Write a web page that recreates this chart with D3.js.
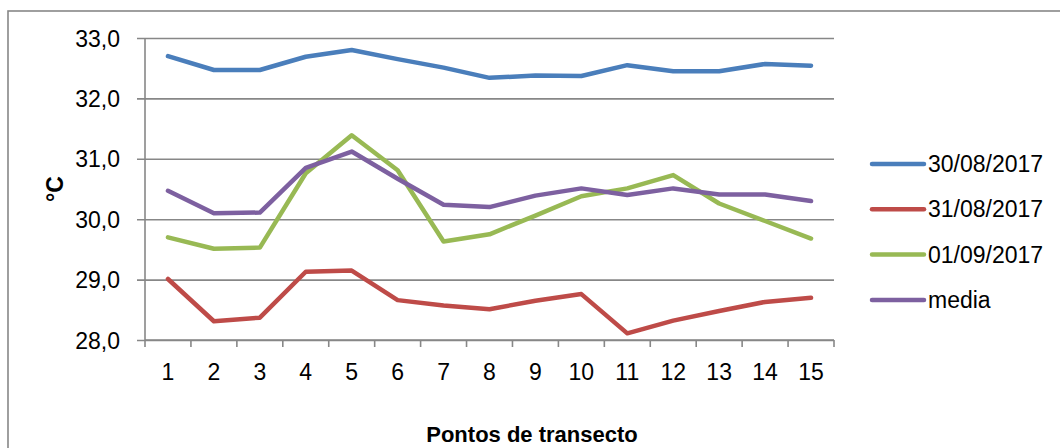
<!DOCTYPE html>
<html>
<head>
<meta charset="utf-8">
<script src="https://cdn.jsdelivr.net/npm/d3@7/dist/d3.min.js"></script>
<style>
  html, body { margin: 0; padding: 0; background: #fff; }
  svg { display: block; }
  text { font-family: "Liberation Sans", Arial, sans-serif; fill: #000; }
</style>
</head>
<body>
<svg id="chart" width="1060" height="448"></svg>
<script>
// Temperature (°C) along the transect points
const pontos = ["1","2","3","4","5","6","7","8","9","10","11","12","13","14","15"];
const d30_08 = [32.70, 32.47, 32.47, 32.69, 32.80, 32.65, 32.51, 32.34, 32.38, 32.37, 32.55, 32.45, 32.45, 32.57, 32.54];
const d31_08 = [29.01, 28.31, 28.37, 29.13, 29.15, 28.66, 28.57, 28.51, 28.65, 28.76, 28.11, 28.32, 28.48, 28.63, 28.70];
const d01_09 = [29.70, 29.51, 29.53, 30.76, 31.39, 30.81, 29.63, 29.75, 30.06, 30.38, 30.51, 30.73, 30.26, 29.97, 29.68];
const media  = [30.47, 30.10, 30.11, 30.85, 31.12, 30.67, 30.24, 30.20, 30.39, 30.51, 30.40, 30.51, 30.41, 30.41, 30.30];
const yTicks = [28, 29, 30, 31, 32, 33];
const seriesNames = ["30/08/2017", "31/08/2017", "01/09/2017", "media"];
const seriesColors = ["#4a7ebb", "#be4b48", "#98b954", "#7d60a0"];
const seriesValues = [d30_08, d31_08, d01_09, media];

const svg = d3.select("#chart");
const margin = { left: 145, top: 38, right: 834, bottom: 340 };

// outer chart frame
svg.append("rect")
  .attr("x", 8).attr("y", 11)
  .attr("width", 1200).attr("height", 600)
  .attr("fill", "none").attr("stroke", "#878787").attr("stroke-width", 1.6);

const x = d3.scaleBand().domain(pontos).range([margin.left, margin.right]).padding(0);
const y = d3.scaleLinear().domain([28, 33]).range([margin.bottom, margin.top]);

const fmt = v => d3.format(".1f")(v).replace(".", ",");

// horizontal gridlines + left axis
const yAxis = d3.axisLeft(y).tickValues(yTicks).tickFormat(fmt)
  .tickSize(-(margin.right - margin.left)).tickSizeOuter(0).tickPadding(0);
const gy = svg.append("g").attr("transform", `translate(${margin.left},0)`).call(yAxis);
gy.select(".domain").remove();
gy.selectAll(".tick line")
  .attr("x1", -8)
  .attr("stroke", "#878787").attr("stroke-width", 1.6);
gy.selectAll(".tick text")
  .attr("x", -25).attr("dy", "0.35em")
  .style("font-size", "23px").style("font-family", "Liberation Sans, Arial, sans-serif")
  .attr("fill", "#000");

// vertical axis line
svg.append("line")
  .attr("x1", margin.left).attr("x2", margin.left)
  .attr("y1", margin.top).attr("y2", margin.bottom)
  .attr("stroke", "#878787").attr("stroke-width", 1.6);

// category axis with ticks at band boundaries
const gx = svg.append("g").attr("transform", `translate(0,${margin.bottom})`);
gx.append("line")
  .attr("x1", margin.left).attr("x2", margin.right)
  .attr("stroke", "#878787").attr("stroke-width", 1.6);
const bounds = pontos.map(p => x(p)).concat([x(pontos[pontos.length - 1]) + x.bandwidth()]);
gx.selectAll("line.tk").data(bounds).join("line").attr("class", "tk")
  .attr("x1", d => d).attr("x2", d => d).attr("y1", 0).attr("y2", 7)
  .attr("stroke", "#878787").attr("stroke-width", 1.6);
gx.selectAll("text").data(pontos).join("text")
  .attr("x", d => x(d) + x.bandwidth() / 2)
  .attr("y", 40)
  .attr("text-anchor", "middle")
  .style("font-size", "23px")
  .text(d => d);

// series lines
const line = d3.line()
  .x((d, i) => x(pontos[i]) + x.bandwidth() / 2)
  .y(d => y(d));
svg.append("g").selectAll("path").data(seriesValues).join("path")
  .attr("d", d => line(d))
  .attr("fill", "none")
  .attr("stroke", (d, i) => seriesColors[i])
  .attr("stroke-width", 4.5)
  .attr("stroke-linejoin", "round")
  .attr("stroke-linecap", "round");

// legend
const legend = svg.append("g").attr("transform", "translate(872,164)");
const items = legend.selectAll("g").data(seriesNames).join("g")
  .attr("transform", (d, i) => `translate(0,${i * 45.3})`);
items.append("line")
  .attr("x1", 0).attr("x2", 52)
  .attr("stroke", (d, i) => seriesColors[i])
  .attr("stroke-width", 4.5).attr("stroke-linecap", "round");
items.append("text")
  .attr("x", 56).attr("y", 8)
  .style("font-size", "23px")
  .text(d => d);

// axis titles
svg.append("text")
  .attr("transform", "translate(63,189) rotate(-90)")
  .attr("text-anchor", "middle")
  .style("font-size", "23px").style("font-weight", "bold")
  .text("°C");
svg.append("text")
  .attr("x", 532).attr("y", 442)
  .attr("text-anchor", "middle")
  .style("font-size", "22px").style("font-weight", "bold")
  .text("Pontos de transecto");
</script>
</body>
</html>
